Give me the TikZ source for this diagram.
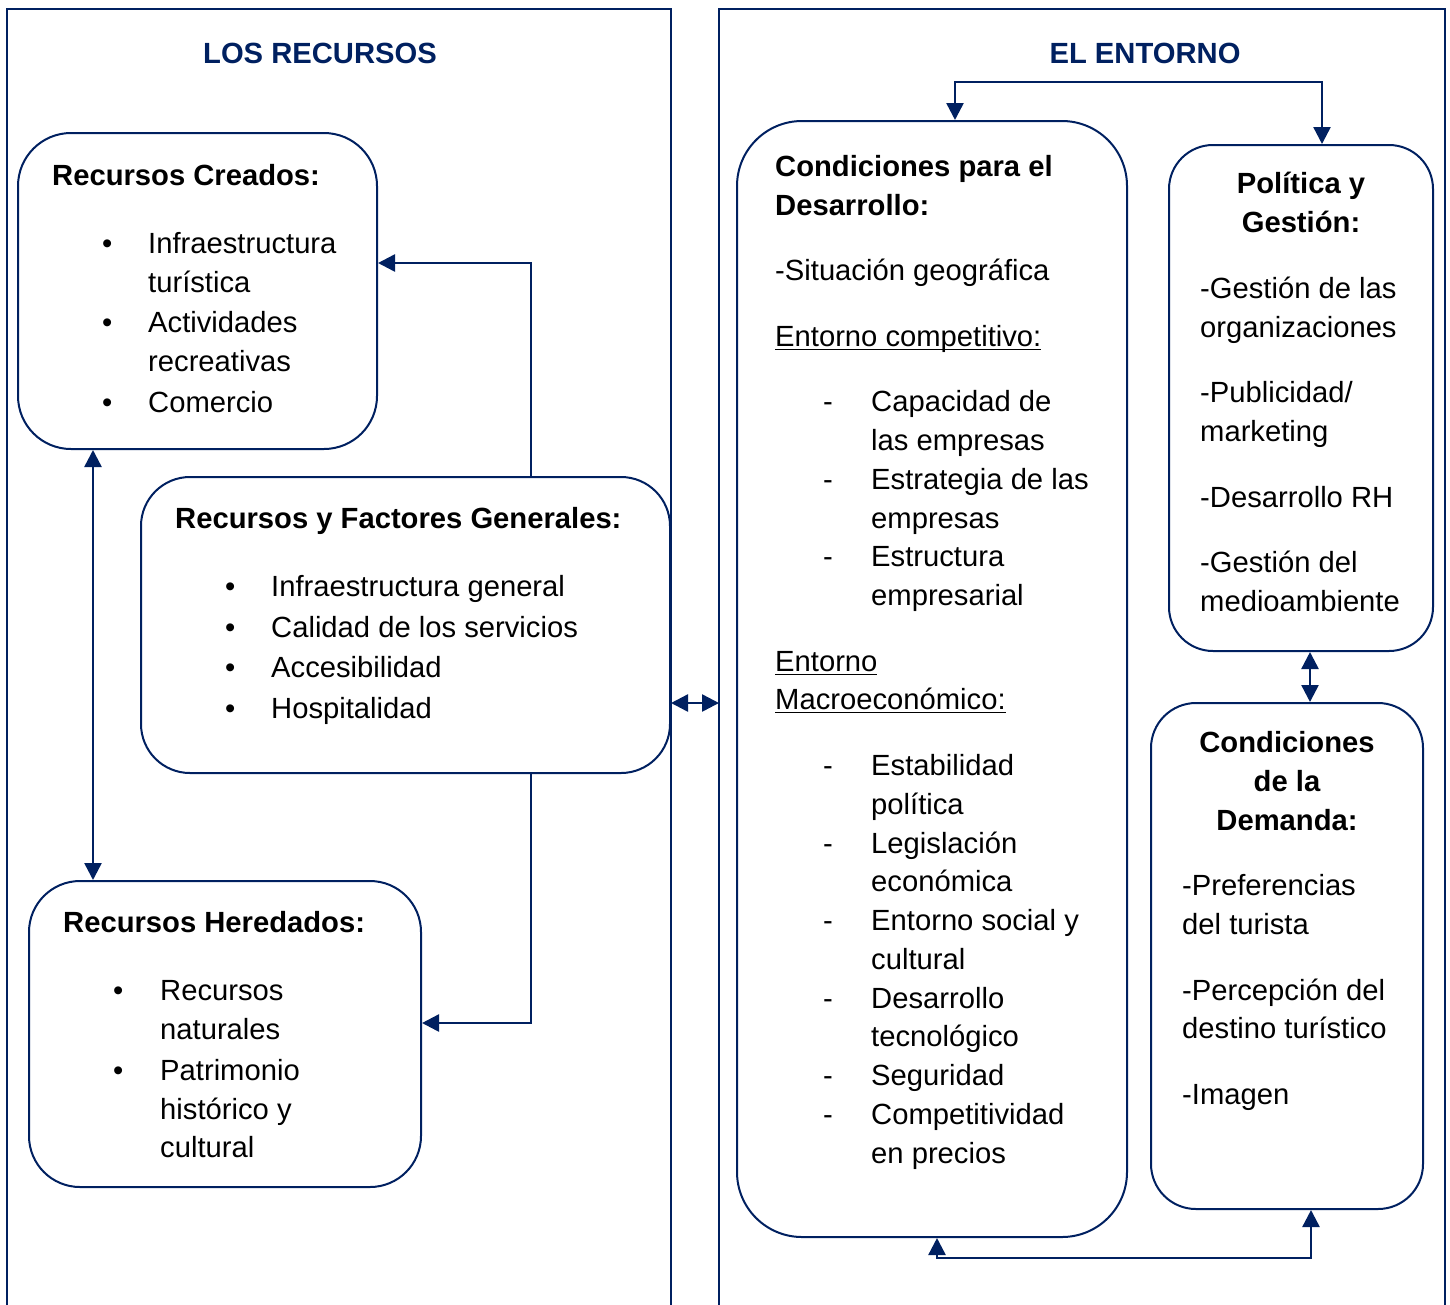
\documentclass[tikz,border=0pt]{standalone}
\usepackage{fontspec}
\setmainfont{Liberation Sans}
\usetikzlibrary{arrows.meta}
\definecolor{navy}{HTML}{002060}
\newcounter{tl}
% one text line, placed by its baseline
\newcommand\tline[3]{\stepcounter{tl}\node[txt] (t\arabic{tl}) at (#1,#2+1.5) {#3};}
\newcommand\ctline[3]{\stepcounter{tl}\node[ctxt] (t\arabic{tl}) at (#1,#2+1.5) {#3};}
\newcommand\bul[2]{\tline{#1+2}{#2}{\textbullet}}
\newcommand\dsh[2]{\tline{#1}{#2}{-}}
% underline placed just under the baseline
\newcommand\ulin[1]{\setbox0\hbox{#1}\rlap{\rule[-3.6pt]{\wd0}{1.6pt}}\box0}
\begin{document}
\begin{tikzpicture}[x=1pt,y=-1pt,
  txt/.style={anchor=base west,inner sep=0pt,font=\fontsize{29.2}{35}\selectfont},
  ctxt/.style={anchor=base,inner sep=0pt,font=\fontsize{29.2}{35}\selectfont\bfseries},
  title/.style={anchor=base,inner sep=0pt,text=navy,font=\fontsize{29.2}{35}\selectfont\bfseries},
  panel/.style={draw=navy,line width=2pt},
  rbox/.style={draw=navy,line width=2pt,rectangle,inner sep=0pt},
  tip/.tip={Triangle[length=17pt,width=17pt]},
  arr/.style={draw=navy,line width=2.5pt,-tip},
  dbl/.style={draw=navy,line width=2.5pt,tip-tip}]
\useasboundingbox (0,0) rectangle (1450,1304);

% two open panels
\draw[panel] (7,1310) -- (7,9) -- (671,9) -- (671,1310);
\draw[panel] (719,1310) -- (719,9) -- (1445,9) -- (1445,1310);
\coordinate (rp) at (719,703);

\node[title] (h1) at (320,63.5) {LOS RECURSOS};
\node[title] (h2) at (1145,63.5) {EL ENTORNO};

% rounded boxes
\node[rbox,rounded corners=53pt,minimum width=359pt,minimum height=316pt] (cre) at (197.5,291) {};
\node[rbox,rounded corners=49pt,minimum width=529pt,minimum height=296pt] (gen) at (405.5,625) {};
\node[rbox,rounded corners=51pt,minimum width=392pt,minimum height=306pt] (her) at (225,1034) {};
\node[rbox,rounded corners=65pt,minimum width=390pt,minimum height=1116pt] (des) at (932,679) {};
\node[rbox,rounded corners=44pt,minimum width=264pt,minimum height=506pt] (pol) at (1301,398) {};
\node[rbox,rounded corners=45pt,minimum width=272pt,minimum height=506pt] (dem) at (1287,956) {};

% connectors
\draw[arr] (gen.north -| 531,0) |- (cre.east |- 0,263);
\draw[arr] (gen.south -| 531,0) |- (her.east |- 0,1023);
\draw[dbl] (cre.south -| 93,0) -- (her.north -| 93,0);
\draw[dbl] (gen.east |- 0,703) -- (rp);
\draw[dbl] (des.north -| 955,0) |- (1322,82) -- (pol.north -| 1322,0);
\draw[dbl] (pol.south -| 1310,0) -- (dem.north -| 1310,0);
\draw[dbl] (des.south -| 937,0) |- (1311,1258) -- (dem.south -| 1311,0);

% Recursos Creados
\tline{52}{184}{\bfseries Recursos Creados:}
\bul{100}{252}\tline{148}{252}{Infraestructura}
\tline{148}{291}{turística}
\bul{100}{331}\tline{148}{331}{Actividades}
\tline{148}{370}{recreativas}
\bul{100}{411}\tline{148}{411}{Comercio}

% Recursos y Factores Generales
\tline{175}{527}{\bfseries Recursos y Factores Generales:}
\bul{223}{595}\tline{271}{595}{Infraestructura general}
\bul{223}{636}\tline{271}{636}{Calidad de los servicios}
\bul{223}{676}\tline{271}{676}{Accesibilidad}
\bul{223}{717}\tline{271}{717}{Hospitalidad}

% Recursos Heredados
\tline{63}{931}{\bfseries Recursos Heredados:}
\bul{111}{999}\tline{160}{999}{Recursos}
\tline{160}{1038}{naturales}
\bul{111}{1079}\tline{160}{1079}{Patrimonio}
\tline{160}{1118}{histórico y}
\tline{160}{1156}{cultural}

% Condiciones para el Desarrollo
\tline{775}{175}{\bfseries Condiciones para el}
\tline{775}{214}{\bfseries Desarrollo:}
\tline{775}{279}{-Situación geográfica}
\tline{775}{345}{\ulin{Entorno competitivo:}}
\dsh{823}{410}\tline{871}{410}{Capacidad de}
\tline{871}{449}{las empresas}
\dsh{823}{488}\tline{871}{488}{Estrategia de las}
\tline{871}{527}{empresas}
\dsh{823}{565}\tline{871}{565}{Estructura}
\tline{871}{604}{empresarial}
\tline{775}{670}{\ulin{Entorno}}
\tline{775}{708}{\ulin{Macroeconómico:}}
\dsh{823}{774}\tline{871}{774}{Estabilidad}
\tline{871}{813}{política}
\dsh{823}{852}\tline{871}{852}{Legislación}
\tline{871}{890}{económica}
\dsh{823}{929}\tline{871}{929}{Entorno social y}
\tline{871}{968}{cultural}
\dsh{823}{1007}\tline{871}{1007}{Desarrollo}
\tline{871}{1045}{tecnológico}
\dsh{823}{1084}\tline{871}{1084}{Seguridad}
\dsh{823}{1123}\tline{871}{1123}{Competitividad}
\tline{871}{1162}{en precios}

% Política y Gestión
\ctline{1301}{192}{Política y}
\ctline{1301}{231}{Gestión:}
\tline{1200}{297}{-Gestión de las}
\tline{1200}{336}{organizaciones}
\tline{1200}{401}{-Publicidad/}
\tline{1200}{440}{marketing}
\tline{1200}{506}{-Desarrollo RH}
\tline{1200}{571}{-Gestión del}
\tline{1200}{610}{medioambiente}

% Condiciones de la Demanda
\ctline{1287}{751}{Condiciones}
\ctline{1287}{790}{de la}
\ctline{1287}{829}{Demanda:}
\tline{1182}{894}{-Preferencias}
\tline{1182}{933}{del turista}
\tline{1182}{999}{-Percepción del}
\tline{1182}{1037}{destino turístico}
\tline{1182}{1103}{-Imagen}
\end{tikzpicture}
\end{document}
